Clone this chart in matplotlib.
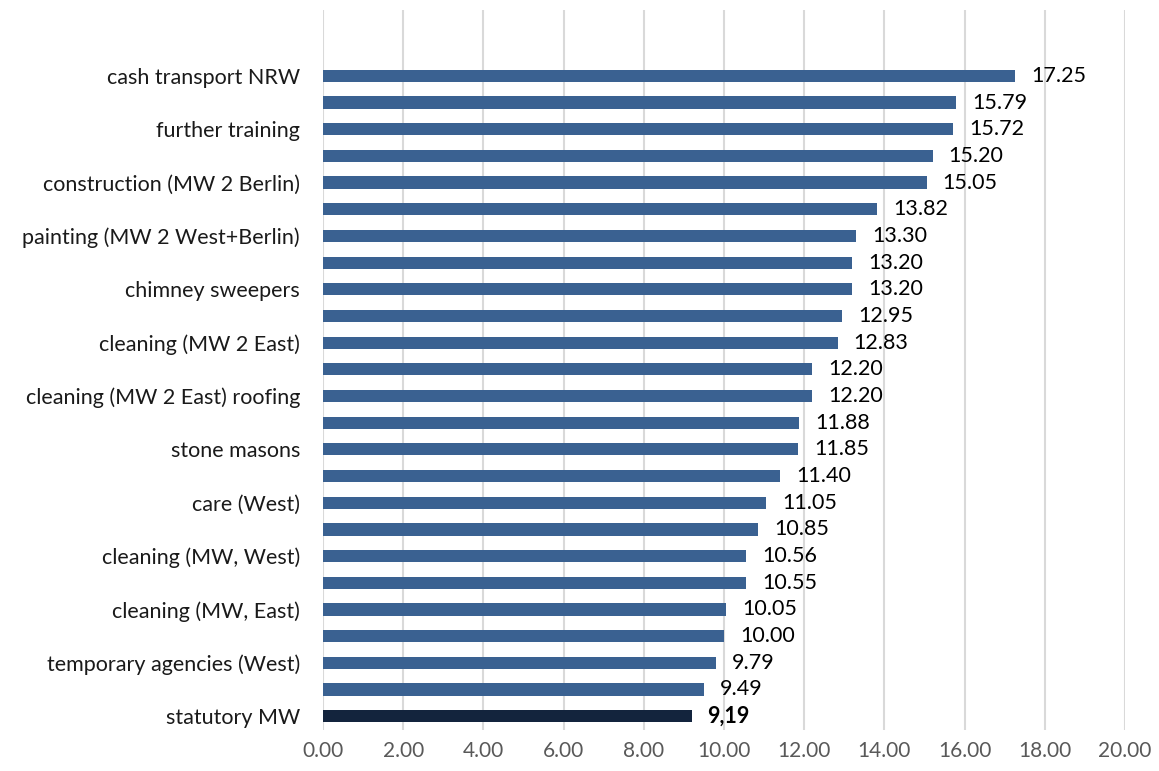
import matplotlib
matplotlib.use("Agg")
import matplotlib.pyplot as plt

plt.rcParams['font.family'] = ['Lato', 'DejaVu Sans']

categories = [
    "cash transport NRW", "", "further training", "", "construction (MW 2 Berlin)", "",
    "painting (MW 2 West+Berlin)", "", "chimney sweepers", "", "cleaning (MW 2 East)", "",
    "cleaning (MW 2 East) roofing", "", "stone masons", "", "care (West)", "",
    "cleaning (MW, West)", "", "cleaning (MW, East)", "", "temporary agencies (West)", "",
    "statutory MW",
]
values = [17.25, 15.79, 15.72, 15.20, 15.05, 13.82, 13.30, 13.20, 13.20, 12.95,
          12.83, 12.20, 12.20, 11.88, 11.85, 11.40, 11.05, 10.85, 10.56, 10.55,
          10.05, 10.00, 9.79, 9.49, 9.19]
x_ticks = [0, 2, 4, 6, 8, 10, 12, 14, 16, 18, 20]

fig = plt.figure(figsize=(11.59, 7.71), dpi=100)
ax = fig.add_axes([0.2787, 0.0532, 0.692, 0.9338])

ypos = list(range(len(values)))
colors = ["#3A6191"] * (len(values) - 1) + ["#13243D"]
ax.barh(ypos, values, height=0.46, color=colors, zorder=3)

for y, v in zip(ypos, values):
    if y == len(values) - 1:
        ax.text(v + 0.4, y, f"{v:.2f}".replace(".", ","), va="center", ha="left",
                fontsize=15.5, fontweight="bold", color="black")
    else:
        ax.text(v + 0.4, y, f"{v:.2f}", va="center", ha="left", fontsize=15.5, color="black")

ax.set_yticks(ypos)
ax.set_yticklabels(categories, fontsize=15.5, color="#1a1a1a")
ax.set_ylim(len(values) - 0.48, -2.47)

ax.set_xlim(0, 20)
ax.set_xticks(x_ticks)
ax.set_xticklabels([f"{t:.2f}" for t in x_ticks], fontsize=15, color="#595959")
ax.grid(axis="x", color="#D9D9D9", linewidth=1.5, zorder=0)
ax.tick_params(length=0)
ax.tick_params(axis="x", pad=8)
ax.tick_params(axis="y", pad=16.5)
for s in ax.spines.values():
    s.set_visible(False)

fig.savefig("out.png", dpi=100)
